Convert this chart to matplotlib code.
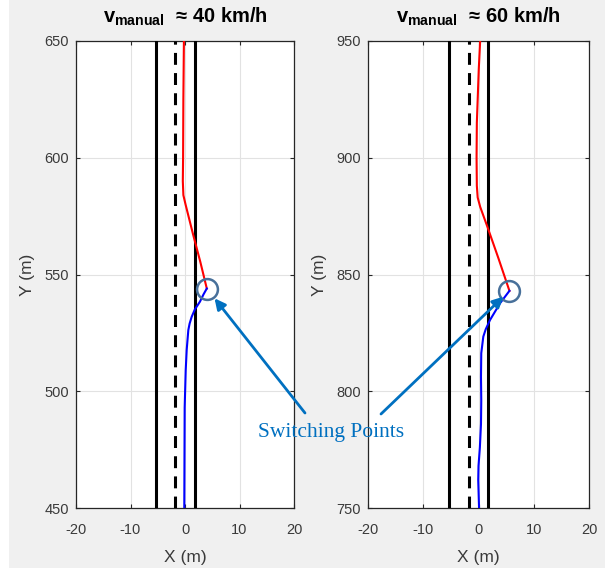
import matplotlib
matplotlib.use("Agg")
import matplotlib.pyplot as plt
from matplotlib.patches import Rectangle

plt.rcParams["font.family"] = ["Liberation Sans", "DejaVu Sans"]
plt.rcParams["mathtext.fontset"] = "custom"
plt.rcParams["mathtext.bf"] = "Liberation Sans:bold"
plt.rcParams["mathtext.rm"] = "Liberation Sans"
plt.rcParams["axes.unicode_minus"] = False

# lane markings (m)
lane_solid = [-5.4, 1.8]
lane_dashed = [-1.8]

# 40 km/h run
speed_a = 40
ylim_a = (450, 650)
yticks_a = [450, 500, 550, 600, 650]
red_x_a = [-0.2, -0.3, -0.35, -0.4, -0.3, 0.1, 1.5, 2.8, 4.0]
red_y_a = [650, 625, 600, 590, 584, 580, 567, 555.5, 544]
blue_x_a = [4.0, 3.4, 2.75, 1.8, 1.23, 0.85, 0.61, 0.31, 0.13, -0.06, -0.13]
blue_y_a = [544, 541.5, 538.4, 535, 531.9, 529, 526.2, 517.7, 509, 493, 450]

# 60 km/h run
speed_b = 60
ylim_b = (750, 950)
yticks_b = [750, 800, 850, 900, 950]
red_x_b = [0.3, 0.05, -0.3, -0.35, -0.3, -0.15, 0.3, 1.6, 3.6, 5.6]
red_y_b = [950, 938, 915, 900, 888, 883, 879, 870.5, 857, 843]
blue_x_b = [5.6, 4.8, 3.9, 2.08, 1.3, 0.87, 0.5, 0.45, 0.5, 0.45, 0.25, 0.0, -0.05, 0.1]
blue_y_b = [843, 840.5, 837.7, 830.5, 826.5, 823.4, 816.3, 806.2, 796, 786, 776, 768, 762, 750]

xticks = [-20, -10, 0, 10, 20]

W, H = 605, 571
fig = plt.figure(figsize=(W / 100, H / 100), dpi=100)
fig.patch.set_facecolor("white")
fig.patches.append(Rectangle((9 / W, 3 / H), 1 - 9 / W, 1 - 3 / H,
                             transform=fig.transFigure, facecolor="#f0f0f0",
                             edgecolor="none", zorder=-10))

ax_a = fig.add_axes([76 / W, 1 - 508 / H, 218 / W, 467 / H])
ax_b = fig.add_axes([368 / W, 1 - 508 / H, 221 / W, 467 / H])

runs = [
    (ax_a, speed_a, ylim_a, yticks_a, red_x_a, red_y_a, blue_x_a, blue_y_a),
    (ax_b, speed_b, ylim_b, yticks_b, red_x_b, red_y_b, blue_x_b, blue_y_b),
]

for ax, speed, ylim, yticks, rx, ry, bx, by in runs:
    ax.set_facecolor("white")
    for xv in lane_solid:
        ax.axvline(xv, color="black", lw=2.2, zorder=3)
    for xv in lane_dashed:
        ax.axvline(xv, color="black", lw=2.2, dashes=(3.9, 2.7), zorder=3)
    ax.plot(rx, ry, color="red", lw=1.5, zorder=4)
    ax.plot(bx, by, color="blue", lw=1.5, zorder=4)
    ax.plot(rx[-1], ry[-1], "o", ms=15, mfc="none", mec="#48709a", mew=1.8, zorder=5)

    ax.set_xlim(-20, 20)
    ax.set_ylim(*ylim)
    ax.set_xticks(xticks)
    ax.set_yticks(yticks)
    ax.grid(True, color="#e2e2e2", lw=0.8, zorder=0)
    ax.set_axisbelow(True)
    ax.tick_params(direction="in", length=3, width=0.8, color="#262626",
                   labelcolor="#3a3a3a", labelsize=10.5, top=True, right=True)
    ax.tick_params(axis="x", pad=11)
    ax.tick_params(axis="y", pad=5)
    for s in ax.spines.values():
        s.set_color("#262626")
        s.set_linewidth(0.9)
    ax.set_xlabel("X (m)", fontsize=12.5, color="#3a3a3a", labelpad=9)
    ax.set_ylabel("Y (m)", fontsize=12.5, color="#3a3a3a", labelpad=7)
    ax.set_title(r"$\mathbf{v_{manual}}$  ≈ %d km/h" % speed,
                 fontsize=14.5, fontweight="bold", pad=13)

# switching points annotation
note_color = "#0070c0"
fig.text(331 / W, 1 - 433 / H, "Switching Points", color=note_color,
         family=["Liberation Serif", "DejaVu Serif"], fontsize=15.5,
         ha="center", va="center")
arrow = dict(arrowstyle="-|>", color=note_color, lw=2, mutation_scale=16,
             shrinkA=0, shrinkB=9)
ax_a.annotate("", xy=(red_x_a[-1], red_y_a[-1]), xycoords="data",
              xytext=(305 / W, 1 - 413 / H), textcoords="figure fraction",
              arrowprops=arrow, zorder=6, annotation_clip=False)
ax_b.annotate("", xy=(red_x_b[-1], red_y_b[-1]), xycoords="data",
              xytext=(381 / W, 1 - 414 / H), textcoords="figure fraction",
              arrowprops=dict(arrow, shrinkB=6), zorder=6, annotation_clip=False)

fig.savefig("out.png", dpi=100, facecolor=fig.get_facecolor())
